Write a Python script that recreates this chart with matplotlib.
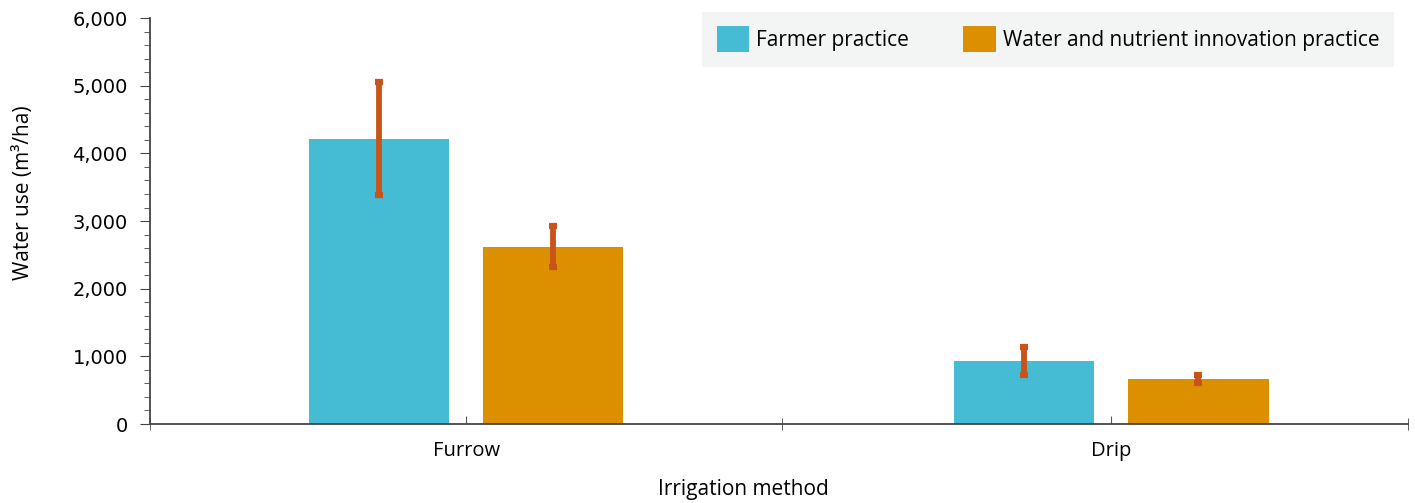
import numpy as np
import matplotlib
matplotlib.use('Agg')
from matplotlib import pyplot as plt
from matplotlib.ticker import MultipleLocator, FuncFormatter, FixedLocator

# data
methods = ['Furrow', 'Drip']
farmer = [4220, 930]
farmer_err = [830, 205]
innov = [2620, 665]
innov_err = [300, 65]
series_names = ['Farmer practice', 'Water and nutrient innovation practice']

blue = '#46bbd4'
orange = '#dc9000'
err_col = '#c8541a'

plt.rcParams['font.family'] = ['Open Sans', 'DejaVu Sans']

fig = plt.figure(figsize=(14.15, 5.03), dpi=100)
ax = fig.add_axes([0.106, 0.157, 0.889, 0.807])

x = np.arange(len(methods))
w = 0.218
off = 0.135
ekw = dict(ecolor=err_col, elinewidth=4.2, capsize=3, capthick=4.5)
ax.bar(x - off, farmer, w, yerr=farmer_err, color=blue, label=series_names[0], error_kw=ekw)
ax.bar(x + off, innov, w, yerr=innov_err, color=orange, label=series_names[1], error_kw=ekw)

ax.set_xlim(-0.49, 1.46)
ax.set_ylim(0, 6000)

for s in ['top', 'right']:
    ax.spines[s].set_visible(False)
for s in ['left', 'bottom']:
    ax.spines[s].set_color('#444444')
    ax.spines[s].set_linewidth(1.3)

ax.set_xticks(x)
ax.set_xticklabels(methods, fontsize=14.5)
ax.tick_params(axis='x', which='major', direction='in', length=6, color='#555555', pad=12)
ax.xaxis.set_minor_locator(FixedLocator([-0.49, 0.49, 1.46]))
ax.tick_params(axis='x', which='minor', direction='inout', length=8, color='#444444')

ax.yaxis.set_major_locator(MultipleLocator(1000))
ax.yaxis.set_minor_locator(MultipleLocator(200))
ax.yaxis.set_major_formatter(FuncFormatter(lambda v, p: '{:,.0f}'.format(v)))
ax.tick_params(axis='y', which='major', length=7, color='#444444', labelsize=14, pad=9)
ax.tick_params(axis='y', which='minor', length=4, color='#444444')
for lab in ax.get_yticklabels():
    lab.set_family('DejaVu Sans')

ax.set_ylabel('Water use (m³/ha)', fontsize=15)
ax.yaxis.set_label_coords(-0.092, 0.571)
ax.set_xlabel('Irrigation method', fontsize=15)
ax.xaxis.set_label_coords(0.472, -0.135)

leg = ax.legend(loc='upper right', bbox_to_anchor=(0.989, 1.016), ncol=2, fontsize=15,
                frameon=True, fancybox=False, handlelength=1.55, handleheight=1.55,
                columnspacing=2.6, borderpad=0.7, handletextpad=0.35, borderaxespad=0)
leg.get_frame().set_facecolor('#f3f5f4')
leg.get_frame().set_edgecolor('none')
leg.get_frame().set_alpha(1)

fig.savefig('out.png', dpi=100)
